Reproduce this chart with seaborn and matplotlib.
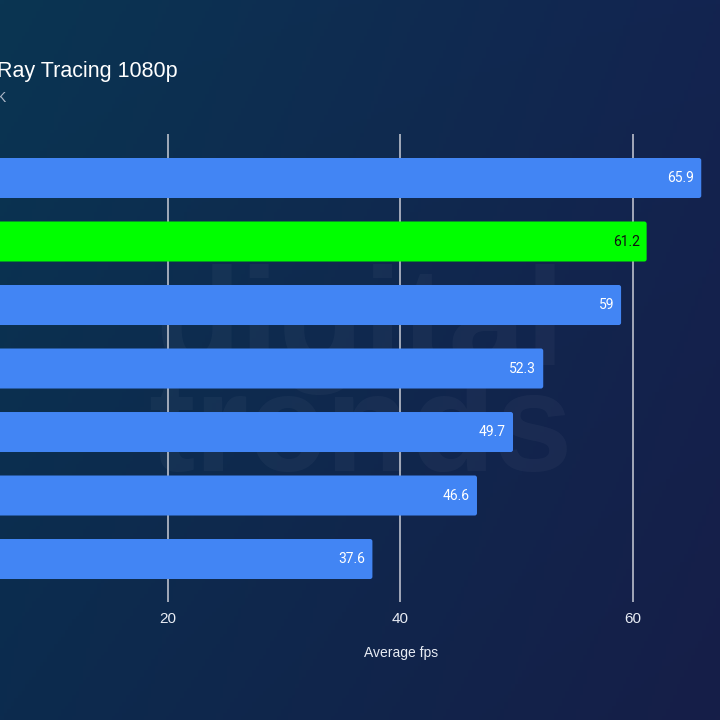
import numpy as np
import pandas as pd
import matplotlib
matplotlib.use("Agg")
import matplotlib.pyplot as plt
from matplotlib.patches import FancyBboxPatch
import seaborn as sns

sns.set_style("white")
plt.rcParams["font.family"] = ["Liberation Sans", "DejaVu Sans"]

# data (gpu names sit off the left edge of the crop, so they are placeholders)
gpus = ["GPU A", "GPU B", "GPU C", "GPU D", "GPU E", "GPU F", "GPU G"]
fps = [65.9, 61.2, 59.0, 52.3, 49.7, 46.6, 37.6]
bar_colors = ["#4285f4", "#00ff00", "#4285f4", "#4285f4", "#4285f4", "#4285f4", "#4285f4"]
label_colors = ["white", "#111111", "white", "white", "white", "white", "white"]
xticks = [20, 40, 60]

df = pd.DataFrame({"gpu": gpus, "fps": fps})

fig = plt.figure(figsize=(7.2, 7.2), dpi=100)

# gradient background
bg = fig.add_axes([0, 0, 1, 1], zorder=-10)
tl = np.array([10, 53, 82]) / 255
tr = np.array([19, 36, 80]) / 255
bl = np.array([12, 43, 78]) / 255
br = np.array([22, 30, 72]) / 255
u = np.linspace(0, 1, 200)[None, :, None]
v = np.linspace(0, 1, 200)[:, None, None]
grad = (1 - v) * ((1 - u) * tl + u * tr) + v * ((1 - u) * bl + u * br)
bg.imshow(grad, aspect="auto", extent=[0, 1, 0, 1])
bg.axis("off")
bg.text(0.5, 0.47, "digital\ntrends", ha="center", va="center", fontsize=100,
        fontweight="bold", color="white", alpha=0.035, linespacing=0.75)

# main axes: the left part (0 .. ~5.5 fps and the labels) is cut off by the crop
ax = fig.add_axes([-64.5 / 720, 118 / 720, 813.4 / 720, 468 / 720])
ax.set_facecolor("none")
sns.barplot(data=df, x="fps", y="gpu", hue="gpu", palette=bar_colors,
            orient="h", width=0.63, saturation=1, linewidth=0,
            legend=False, ax=ax, zorder=3)
ax.set_xlim(0, 70)
ax.set_ylim(6.677, -0.693)

# slightly rounded bar ends
for p in list(ax.patches):
    x0, y0 = p.get_x(), p.get_y()
    w, h = p.get_width(), p.get_height()
    fb = FancyBboxPatch((x0, y0), w, h,
                        boxstyle="round,pad=0,rounding_size=0.2",
                        mutation_aspect=11.62 / 63.5,
                        facecolor=p.get_facecolor(), edgecolor="none", zorder=3)
    p.remove()
    ax.add_patch(fb)

ax.set_xticks(xticks)
ax.xaxis.grid(True, color="#c9ccd6", linewidth=1.1, zorder=0)
ax.set_axisbelow(True)
ax.tick_params(axis="x", length=0, pad=7, labelsize=11, labelcolor="#e8ecf4")
ax.set_yticks(range(len(gpus)))
ax.set_yticklabels([])
ax.tick_params(axis="y", length=0)
ax.set_ylabel("")
ax.set_xlabel("")
for s in ax.spines.values():
    s.set_visible(False)

for i, (val, c) in enumerate(zip(fps, label_colors)):
    txt = f"{val:g}"
    ax.annotate(txt, (val, i), xytext=(-5, 0), textcoords="offset points",
                ha="right", va="center", color=c, fontsize=10, family="Roboto",
                zorder=5)

fig.text(401 / 720, 1 - 653 / 720, "Average fps", ha="center", va="center",
         color="#e8ecf4", fontsize=10)
fig.text(-3 / 720, 1 - 72 / 720, "Ray Tracing 1080p", ha="left", va="center",
         color="white", fontsize=15.5)
fig.text(6 / 720, 1 - 98 / 720, "K", ha="right", va="center",
         color="#aeb8c8", fontsize=10)

fig.savefig("out.png", dpi=100)
